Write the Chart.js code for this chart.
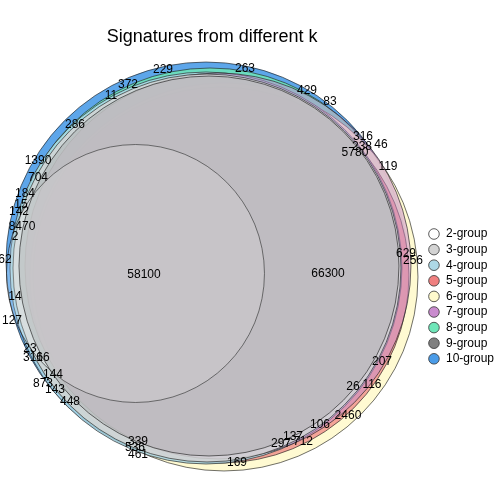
<!DOCTYPE html>
<html>
<head>
<meta charset="utf-8">
<script src="https://cdn.jsdelivr.net/npm/chart.js@4"></script>
<style>
  html, body { margin: 0; padding: 0; background: #fff; }
  #wrap { width: 504px; height: 504px; }
</style>
</head>
<body>
<div id="wrap"><canvas id="eulerChart"></canvas></div>
<script>
// groups and their colours
const groups = ["2-group", "3-group", "4-group", "5-group", "6-group", "7-group", "8-group", "9-group", "10-group"];
const groupColors = ["#ffffff", "#d3d3d3", "#add8e6", "#f08080", "#fffacd", "#c98bce", "#6fe6b9", "#808080", "#4b9ce8"];
const fillAlpha = [0.22, 0.85, 0.85, 0.7, 0.9, 0.5, 0.85, 0.22, 0.9];
// lower = drawn on top
const drawOrder = [1, 2, 4, 5, 6, 3, 7, 0, 8];

// circles of the euler diagram (diagram units)
const circleX = [-76.5, -5, -6, 9, 12, 6, -2, -3, -6];
const circleY = [-7.5, -2, -2, -9, -11, 0, 0, 0, 4];
const circleR = [129, 194, 196, 188, 194, 193, 198, 190, 200];

// region counts and where they sit
const labelText = ["58100", "66300", "263", "229", "372", "11", "286", "1390", "704", "184",
  "15", "142", "8470", "2", "62", "14", "127", "23", "316", "16",
  "144", "873", "143", "448", "339", "536", "461", "169", "137", "297",
  "712", "106", "2460", "26", "116", "207", "629", "256", "119", "5780",
  "238", "316", "46", "429", "83"];
const labelX = [-68, 116, 33, -49, -84, -101, -137, -174, -174, -187,
  -191, -193, -190, -197, -207, -197, -200, -182, -179, -169,
  -159, -169, -157, -142, -74, -77, -74, 25, 81, 69,
  91, 108, 136, 141, 160, 170, 194, 201, 176, 143,
  150, 151, 169, 95, 118];
const labelY = [-9, -8, 197, 196, 181, 170, 141, 105, 88, 72,
  61, 54, 39, 29, 6, -31, -55, -83, -92, -92,
  -109, -118, -124, -136, -176, -182, -189, -197, -171, -178,
  -176, -159, -150, -121, -119, -96, 12, 5, 99, 113,
  119, 129, 121, 175, 164];

Chart.defaults.font.family = '"Liberation Sans", Arial, sans-serif';
Chart.defaults.color = "#000";

function withAlpha(hex, a) {
  const n = parseInt(hex.slice(1), 16);
  return `rgba(${(n >> 16) & 255}, ${(n >> 8) & 255}, ${n & 255}, ${a})`;
}

// pixels per diagram unit, taken from the x scale
function unitPx(chart) {
  const xs = chart.scales.x;
  return Math.abs(xs.getPixelForValue(1) - xs.getPixelForValue(0));
}

const countLabels = {
  id: "countLabels",
  afterDatasetsDraw(chart) {
    const { ctx, scales: { x, y } } = chart;
    ctx.save();
    ctx.font = '12px "Liberation Sans", Arial, sans-serif';
    ctx.fillStyle = "#000";
    ctx.textAlign = "center";
    ctx.textBaseline = "middle";
    labelText.forEach((t, i) => {
      ctx.fillText(t, x.getPixelForValue(labelX[i]), y.getPixelForValue(labelY[i]));
    });
    ctx.restore();
  },
};

const ctx = document.getElementById("eulerChart").getContext("2d");

new Chart(ctx, {
  type: "scatter",
  data: {
    datasets: groups.map((g, i) => ({
      label: g,
      data: [{ x: circleX[i], y: circleY[i] }],
      pointStyle: "circle",
      pointBackgroundColor: withAlpha(groupColors[i], fillAlpha[i]),
      pointBorderColor: "rgba(30, 30, 30, 0.85)",
      pointBorderWidth: 0.75,
      pointRadius: (c) => {
        const k = unitPx(c.chart);
        return Number.isFinite(k) ? circleR[i] * k : 0;
      },
      order: drawOrder[i],
      clip: false,
    })),
  },
  options: {
    responsive: true,
    maintainAspectRatio: false,
    animation: false,
    events: [],
    layout: { padding: 0, autoPadding: false },
    scales: {
      x: { type: "linear", display: false, min: -212, max: 212.4 },
      y: { type: "linear", display: false, min: -238, max: 218.4 },
    },
    plugins: {
      tooltip: { enabled: false },
      title: {
        display: true,
        text: "Signatures from different k",
        fullSize: false,
        padding: { top: 26, bottom: 0 },
        font: { size: 18, weight: "normal" },
        color: "#000",
      },
      legend: {
        position: "right",
        align: "center",
        title: { display: true, text: "", padding: { top: 74.4, bottom: 0 }, font: { size: 12 } },
        labels: {
          usePointStyle: true,
          pointStyle: "circle",
          boxWidth: 12,
          boxHeight: 7.5,
          padding: 3.6,
          font: { size: 12 },
          color: "#000",
          generateLabels: () =>
            groups.map((g, i) => ({
              text: g,
              fillStyle: groupColors[i],
              strokeStyle: "#333",
              lineWidth: 0.8,
              pointStyle: "circle",
              hidden: false,
              datasetIndex: i,
              fontColor: "#000",
            })),
        },
      },
    },
  },
  plugins: [countLabels],
});
</script>
</body>
</html>
